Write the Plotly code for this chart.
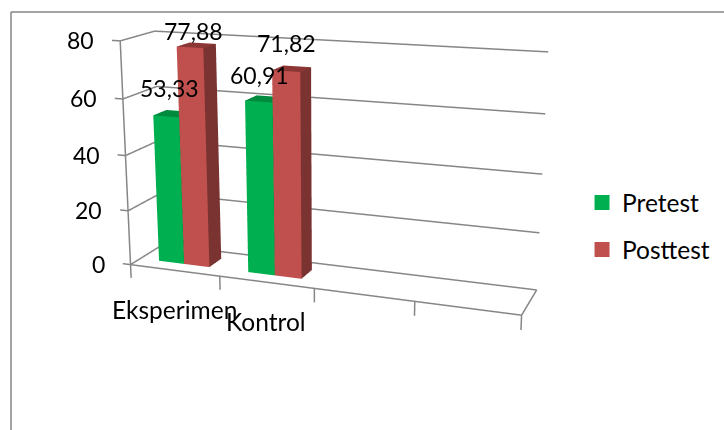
import numpy as np
import plotly.graph_objects as go

# Data
categories = ["Eksperimen", "Kontrol"]
pretest = [53.33, 60.91]
posttest = [77.88, 71.82]
value_ticks = [0, 20, 40, 60, 80]
category_ticks = [0, 1, 2, 3, 4]

# Colours: front, top and side faces of each column
GREEN = ("#00B050", "#008A3E", "#006E32")
RED = ("#C0504D", "#8C3735", "#7A3331")
GREY = "#868686"
FONT = "Lato"

# Column footprint inside one category slot and inside the depth of the box
COL_LEFT, COL_MID, COL_RIGHT = 0.2143, 0.5, 0.7857
DEPTH_FRONT, DEPTH_BACK = 0.3, 0.7

# Oblique box: depth and height lean slightly along the scene axes
LEAN_X_DEPTH, LEAN_Z_DEPTH, LEAN_X_HEIGHT = 0.16678, 6.20931, -0.00219

# Pixel nudges of the value labels, (x, y) per column
PRE_SHIFT = [(3, 28), (1, 27)]
POST_SHIFT = [(4, 16), (1, 28)]


def to_scene(x, d, z):
    x, d, z = (np.array(v, float) for v in (x, d, z))
    return (
        (x + LEAN_X_DEPTH * d + LEAN_X_HEIGHT * z).tolist(),
        d.tolist(),
        (z + LEAN_Z_DEPTH * (d - DEPTH_FRONT)).tolist(),
    )


fig = go.Figure()


def add_column(x0, x1, value, faces):
    xs = [x0, x1, x1, x0, x0, x1, x1, x0]
    ds = [DEPTH_FRONT, DEPTH_FRONT, DEPTH_BACK, DEPTH_BACK] * 2
    zs = [0, 0, 0, 0, value, value, value, value]
    X, Y, Z = to_scene(xs, ds, zs)
    front, top, side = faces
    fig.add_trace(go.Mesh3d(
        x=X, y=Y, z=Z,
        i=[0, 0, 4, 4, 1, 1], j=[1, 5, 5, 6, 2, 6], k=[5, 4, 6, 7, 6, 5],
        facecolor=[front, front, top, top, side, side],
        flatshading=True,
        lighting=dict(ambient=1, diffuse=0, specular=0, fresnel=0, roughness=1),
        hoverinfo="skip", showlegend=False,
    ))


def add_line(x, d, z):
    X, Y, Z = to_scene(x, d, z)
    fig.add_trace(go.Scatter3d(
        x=X, y=Y, z=Z, mode="lines", line=dict(color=GREY, width=3),
        hoverinfo="skip", showlegend=False,
    ))


def label(x, d, z, text, size=23, **kw):
    X, Y, Z = to_scene([x], [d], [z])
    return dict(x=X[0], y=Y[0], z=Z[0], text=text, showarrow=False,
                font=dict(size=size, family=FONT, color="black"), **kw)


def comma(v):
    return str(v).replace(".", ",")


# Gridlines wrap from the side wall onto the back wall; the tick sticks out in front
for v in value_ticks:
    add_line([-0.09, 0, 0, 4], [0, 0, 1, 1], [v, v, v, v])
add_line([0, 4, 4], [0, 0, 1], [0, 0, 0])
add_line([0, 0], [0, 0], [0, value_ticks[-1]])
for c in category_ticks:
    add_line([c, c], [0, 0], [0, -5])

annotations = [label(-0.09, 0, v, str(v), xanchor="right", xshift=-16) for v in value_ticks]

for c, name in enumerate(categories):
    add_column(c + COL_LEFT, c + COL_MID, pretest[c], GREEN)
    add_column(c + COL_MID, c + COL_RIGHT, posttest[c], RED)
    annotations.append(label(c + 0.36, DEPTH_FRONT, pretest[c], comma(pretest[c]),
                             xshift=PRE_SHIFT[c][0], yshift=PRE_SHIFT[c][1]))
    annotations.append(label(c + 0.64, DEPTH_FRONT, posttest[c], comma(posttest[c]),
                             xshift=POST_SHIFT[c][0], yshift=POST_SHIFT[c][1]))
    annotations.append(label(c + 0.5, 0, 0, name, size=24.5, yshift=-39))

# Legend entries
for name, faces in (("Pretest", GREEN), ("Posttest", RED)):
    fig.add_trace(go.Scatter3d(
        x=[None], y=[None], z=[None], mode="markers", name=name, legendgroup=name,
        marker=dict(symbol="square", size=15, color=faces[0]),
    ))

fig.update_layout(
    margin=dict(l=0, r=0, t=0, b=0),
    paper_bgcolor="white",
    showlegend=True,
    legend=dict(x=0.8039, y=0.581, xanchor="left", yanchor="top", traceorder="grouped",
                tracegroupgap=12, font=dict(size=24.5, family=FONT, color="black")),
    scene=dict(
        domain=dict(x=[0, 1], y=[0, 1]),
        aspectmode="manual",
        aspectratio=dict(x=3.3929, y=0.226, z=1.5446),
        camera=dict(
            eye=dict(x=0.6717, y=-2.859, z=0.138),
            center=dict(x=0.2171, y=0.0202, z=-0.2466),
            up=dict(x=-0.1033, y=0.1157, z=0.9879),
        ),
        xaxis=dict(visible=False, range=[-1, 5]),
        yaxis=dict(visible=False, range=[-0.1, 1.1]),
        zaxis=dict(visible=False, range=[-8, 88]),
        annotations=annotations,
        bgcolor="rgba(0,0,0,0)",
    ),
    shapes=[
        dict(type="line", xref="paper", yref="paper", x0=11 / 724, x1=11 / 724,
             y0=0, y1=1 - 12 / 430, line=dict(color=GREY, width=1.5)),
        dict(type="line", xref="paper", yref="paper", x0=11 / 724, x1=1,
             y0=1 - 12 / 430, y1=1 - 12 / 430, line=dict(color=GREY, width=1.5)),
    ],
)

fig.write_html("out.html", config=dict(displayModeBar=False))
